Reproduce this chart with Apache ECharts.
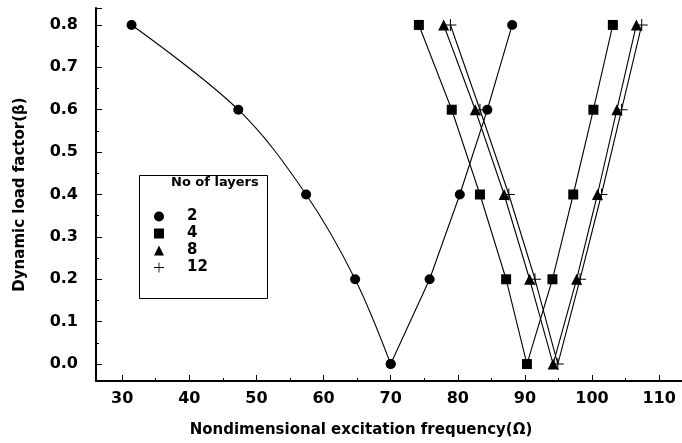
<!DOCTYPE html>
<html>
<head>
<meta charset="utf-8">
<script src="https://cdn.jsdelivr.net/npm/echarts@6/dist/echarts.min.js"></script>
<style>
  html, body { margin: 0; padding: 0; background: #fff; }
  #chart { width: 682px; height: 443px; }
</style>
</head>
<body>
<div id="chart"></div>
<script>
// dynamic load factor values (same for every curve)
var beta = [0.8, 0.6, 0.4, 0.2, 0.0, 0.2, 0.4, 0.6, 0.8];

// excitation frequency for each number of layers
var freq2 = [31.4, 47.3, 57.4, 64.7, 70.0, 75.8, 80.3, 84.4, 88.1];
var freq4 = [74.2, 79.1, 83.3, 87.2, 90.3, 94.1, 97.2, 100.2, 103.1];
var freq8 = [77.9, 82.6, 86.9, 90.7, 94.2, 97.7, 100.8, 103.7, 106.6];
var freq12 = [78.9, 83.3, 87.6, 91.5, 94.9, 98.2, 101.4, 104.4, 107.4];

var layerNames = ['2', '4', '8', '12'];

var plusPath = 'path://M5.5,0H6.5V5.5H12V6.5H6.5V12H5.5V6.5H0V5.5H5.5Z';
var fontName = 'DejaVu Sans';

function pairs(xs, from, to) {
  var out = [];
  for (var i = from; i <= to; i++) out.push([xs[i], beta[i]]);
  return out;
}

function makeSeries(name, data, symbol, size, smooth) {
  return {
    name: name,
    type: 'line',
    data: data,
    symbol: symbol,
    symbolSize: size,
    smooth: smooth,
    showAllSymbol: true,
    color: '#000',
    lineStyle: { color: '#000', width: 1.1 },
    itemStyle: { color: '#000' },
    emphasis: { disabled: true },
    z: 2
  };
}

var chart = echarts.init(document.getElementById('chart'));

var option = {
  animation: false,
  backgroundColor: '#fff',
  grid: { left: 96, right: 0, top: 8, bottom: 62 },
  xAxis: {
    type: 'value',
    min: 26.1,
    max: 113.4,
    splitNumber: 9,
    name: 'Nondimensional excitation frequency(Ω)',
    nameLocation: 'middle',
    nameGap: 42,
    nameTextStyle: {
      fontFamily: fontName, fontWeight: 'bold', fontSize: 15, color: '#000',
      padding: [0, 56, 0, 0]
    },
    axisLine: { onZero: false, lineStyle: { color: '#000', width: 2 } },
    axisTick: { inside: true, length: 6, lineStyle: { color: '#000', width: 1 } },
    minorTick: { show: true, splitNumber: 2, length: 3, lineStyle: { color: '#000', width: 1 } },
    axisLabel: {
      showMinLabel: false, showMaxLabel: false, margin: 10,
      fontFamily: fontName, fontWeight: 'bold', fontSize: 16, color: '#000'
    },
    splitLine: { show: false }
  },
  yAxis: {
    type: 'value',
    min: -0.04,
    max: 0.84,
    splitNumber: 9,
    name: 'Dynamic load factor(β)',
    nameLocation: 'middle',
    nameGap: 68,
    nameTextStyle: { fontFamily: fontName, fontWeight: 'bold', fontSize: 15, color: '#000' },
    axisLine: { show: true, onZero: false, lineStyle: { color: '#000', width: 2 } },
    axisTick: { inside: true, length: 6, lineStyle: { color: '#000', width: 1 } },
    minorTick: { show: true, splitNumber: 2, length: 3, lineStyle: { color: '#000', width: 1 } },
    axisLabel: {
      showMinLabel: false, showMaxLabel: false, margin: 18,
      fontFamily: fontName, fontWeight: 'bold', fontSize: 16, color: '#000',
      formatter: function (v) { return v.toFixed(1); }
    },
    splitLine: { show: false }
  },
  legend: {
    orient: 'vertical',
    left: 149,
    top: 204,
    itemWidth: 10,
    itemHeight: 10,
    itemGap: 2,
    selectedMode: false,
    textStyle: {
      fontFamily: fontName, fontWeight: 'bold', fontSize: 15, color: '#000',
      padding: [0, 0, 0, 18]
    },
    data: [
      { name: layerNames[0], icon: 'circle' },
      { name: layerNames[1], icon: 'rect' },
      { name: layerNames[2], icon: 'triangle' },
      { name: layerNames[3], icon: plusPath }
    ]
  },
  graphic: [
    {
      type: 'rect',
      left: 137, top: 173,
      shape: { width: 128, height: 123 },
      style: { fill: 'none', stroke: '#000', lineWidth: 1 },
      z: 10
    },
    {
      type: 'text',
      left: 171, top: 176,
      style: {
        text: 'No of layers',
        font: 'bold 13px ' + fontName,
        fill: '#000'
      },
      z: 10
    }
  ],
  series: [
    // left branch is curved, right branch is straight
    makeSeries(layerNames[0], pairs(freq2, 0, 4), 'circle', 10, 0.35),
    makeSeries(layerNames[0], pairs(freq2, 4, 8), 'circle', 10, false),
    makeSeries(layerNames[1], pairs(freq4, 0, 8), 'rect', 10, false),
    makeSeries(layerNames[2], pairs(freq8, 0, 8), 'triangle', 11, false),
    makeSeries(layerNames[3], pairs(freq12, 0, 8), plusPath, 12, false)
  ]
};

chart.setOption(option);
</script>
</body>
</html>
